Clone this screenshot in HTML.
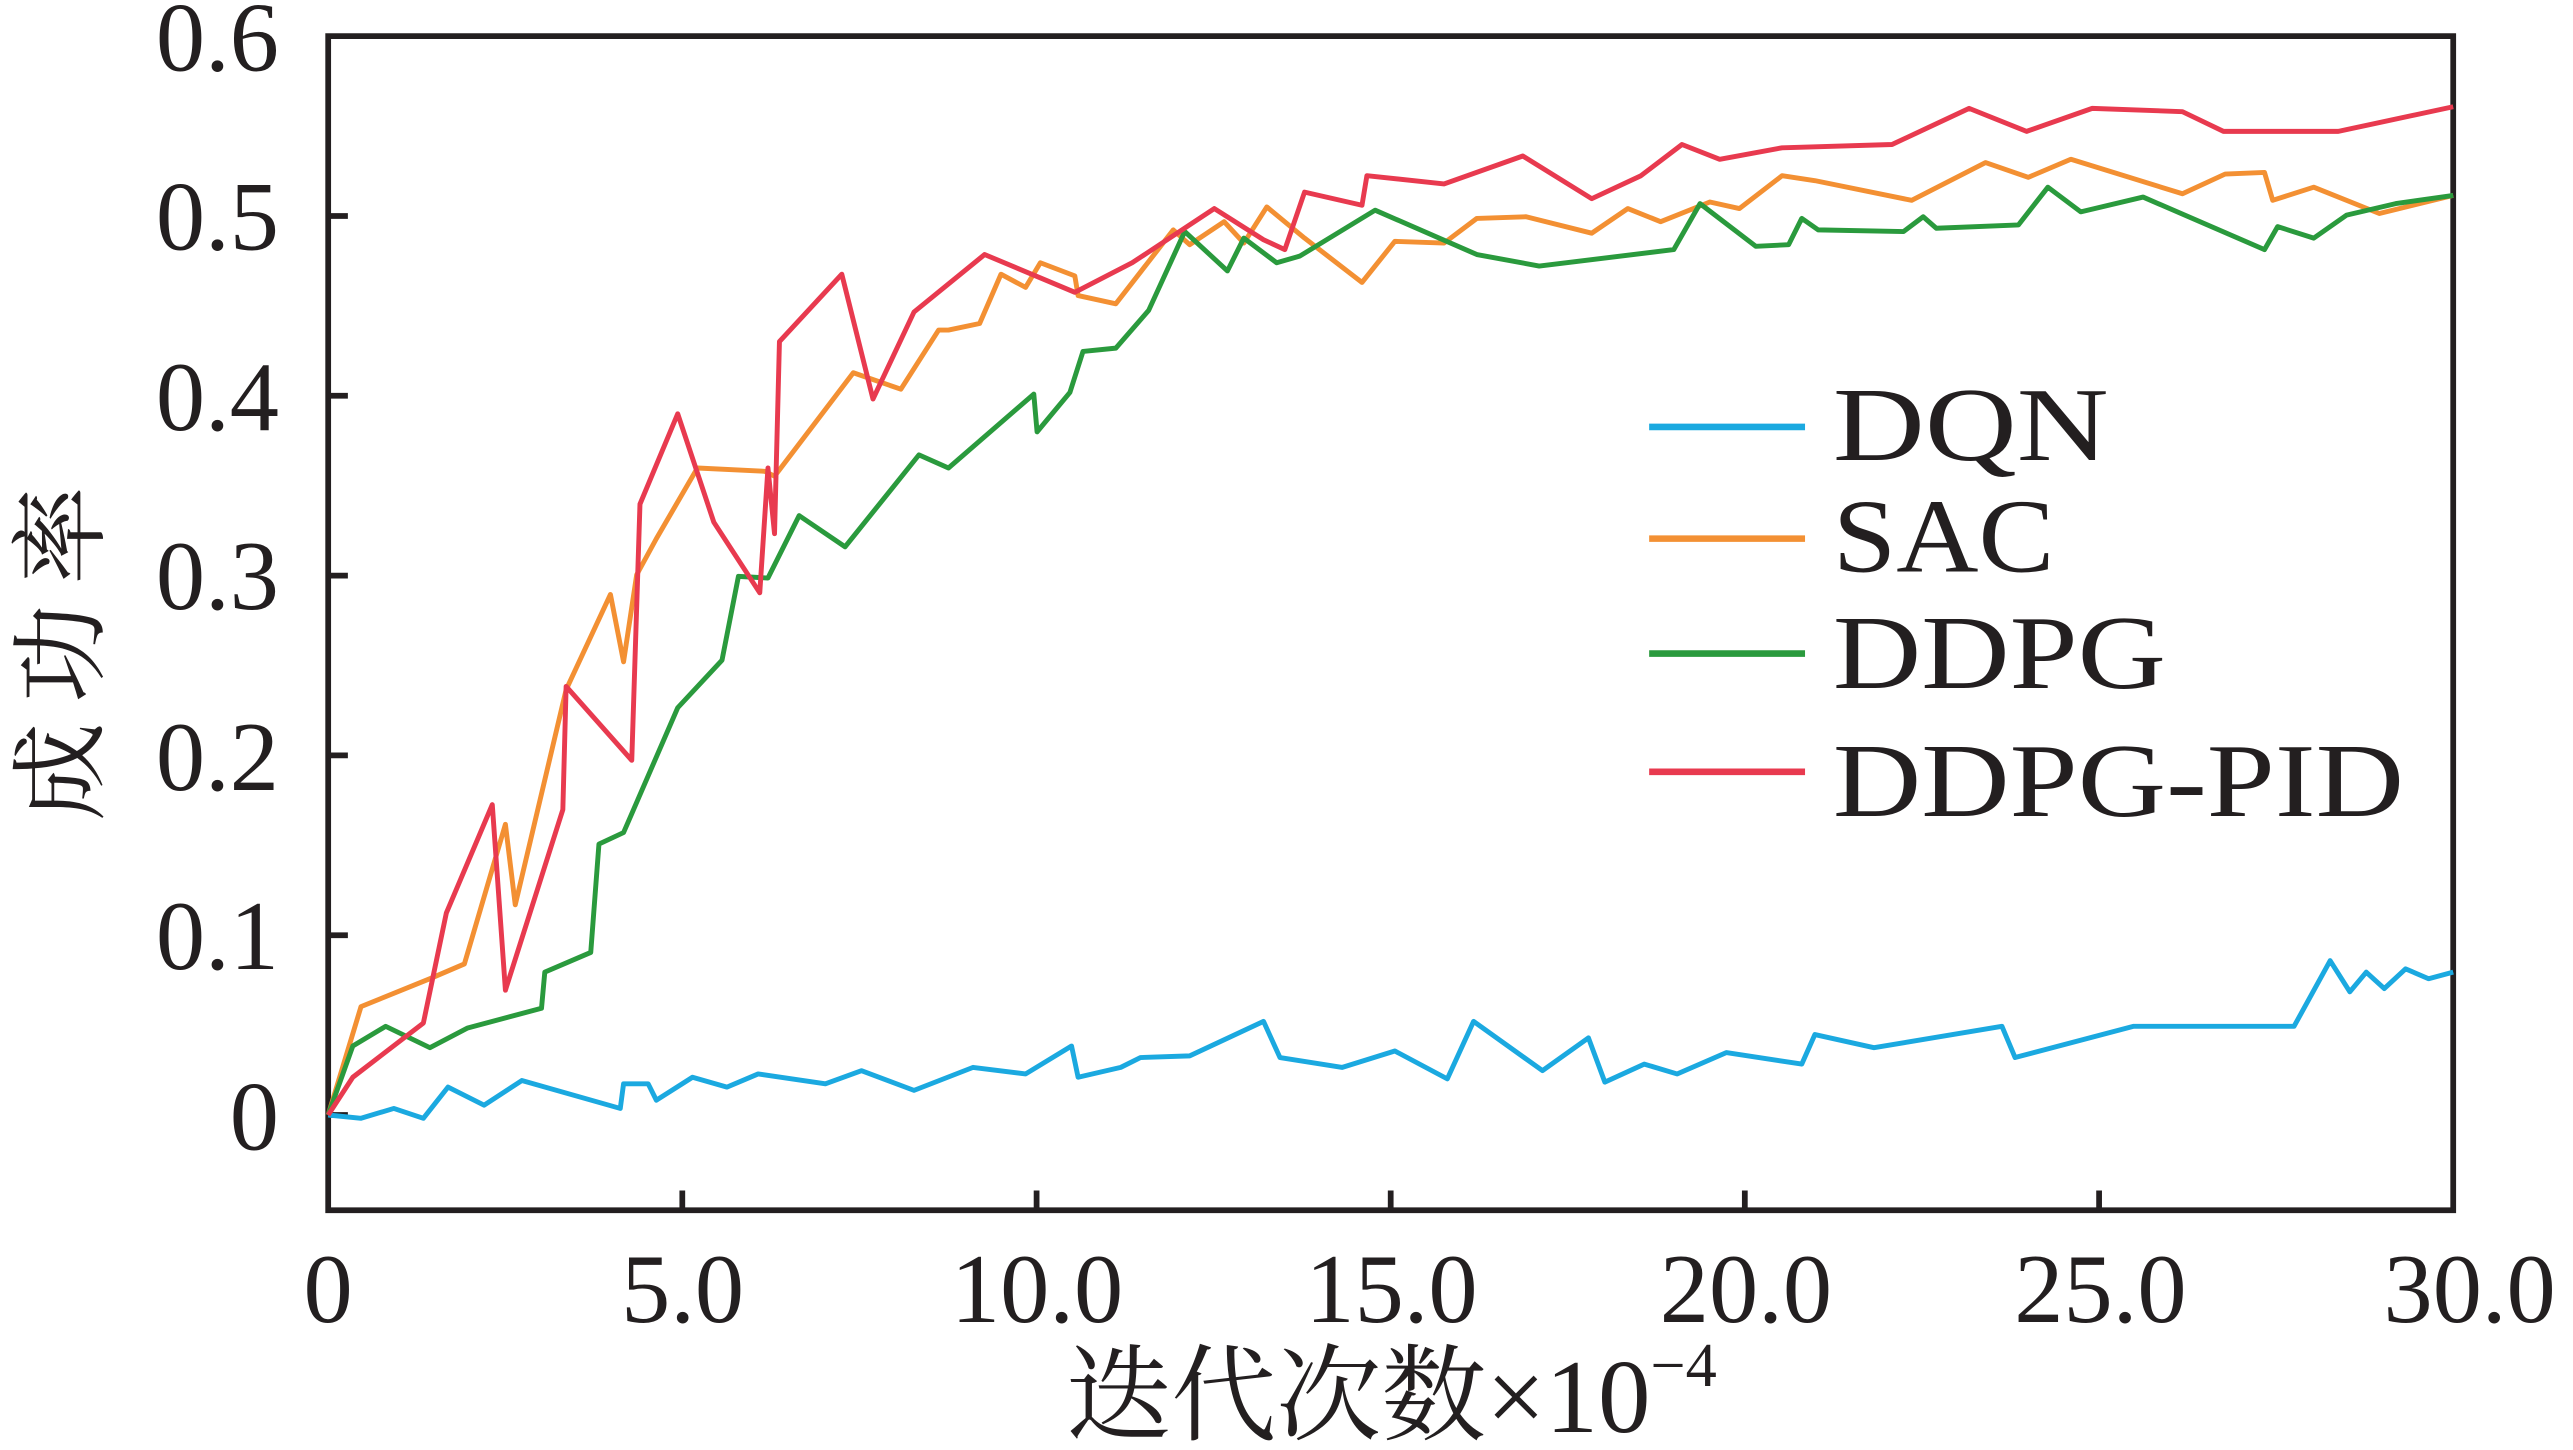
<!DOCTYPE html>
<html><head><meta charset="utf-8"><style>
html,body{margin:0;padding:0;background:#fff;}
svg{display:block;}
text{font-family:"Liberation Serif","Noto Serif CJK SC",serif;fill:#231f20;}
</style></head><body>
<svg width="2573" height="1450" viewBox="0 0 1568 883" preserveAspectRatio="none" xmlns="http://www.w3.org/2000/svg">
<rect x="0" y="0" width="1568" height="883" fill="#fff"/>
<g stroke="#231f20" stroke-width="3.5" fill="none">
<rect x="200" y="22" width="1295" height="715"/>
<path d="M415.8 737v-12M631.7 737v-12M847.5 737v-12M1063.3 737v-12M1279.2 737v-12M200 679h12M200 569.5h12M200 460h12M200 350.5h12M200 241h12M200 131.5h12"/>
</g>
<g font-size="60" text-anchor="end">
<text x="170" y="700">0</text>
<text x="170" y="590">0.1</text>
<text x="170" y="481">0.2</text>
<text x="170" y="371">0.3</text>
<text x="170" y="262">0.4</text>
<text x="170" y="152">0.5</text>
<text x="170" y="43">0.6</text>
</g>
<g font-size="60" text-anchor="middle">
<text x="200" y="805">0</text>
<text x="416" y="805">5.0</text>
<text x="632" y="805">10.0</text>
<text x="848" y="805">15.0</text>
<text x="1064" y="805">20.0</text>
<text x="1280" y="805">25.0</text>
<text x="1505" y="805">30.0</text>
</g>
<text x="848" y="872" font-size="64" text-anchor="middle">迭代次数×10<tspan font-size="38" dy="-28">−4</tspan></text>
<text transform="translate(58,392) rotate(-90)" font-size="60" text-anchor="middle" letter-spacing="12">成功率</text>
<g fill="none" stroke-width="3" stroke-linejoin="round">
<polyline stroke="#1ba9e0" points="200,679 220,681 240,675 258,681 273,662 295,673 318,658 378,675 380,660 395,660 400,670 422,656 443,662 462,654 503,660 525,652 557,664 593,650 625,654 653,637 657,656 683,650 695,644 725,643 770,622 780,644 818,650 850,640 882,657 898,622 940,652 968,632 978,659 1002,648 1022,654 1052,641 1098,648 1106,630 1142,638 1220,625 1228,644 1300,625 1398,625 1420,585 1432,604 1442,592 1453,602 1466,590 1480,596 1495,592"/>
<polyline stroke="#f39033" points="200,679 220,613 262,596 283,587 308,502 314,551 345,420 372,362 380,403 388,350 400,328 425,285 466,287 472,290 520,227 549,237 572,201 578,201 597,197 610,167 625,175 634,160 655,168 657,180 680,185 715,140 725,149 746,135 758,148 772,126 795,145 830,172 850,147 880,148 900,133 930,132 970,142 992,127 1012,135 1042,123 1060,127 1086,107 1106,110 1165,122 1210,99 1236,108 1262,97 1330,118 1356,106 1380,105 1385,122 1410,114 1450,130 1495,119"/>
<polyline stroke="#2a9a3d" points="200,679 215,637 235,625 262,638 285,626 330,614 332,592 360,580 365,514 380,507 413,431 440,402 450,351 468,352 487,314 515,333 560,277 578,285 630,240 632,263 652,239 660,214 680,212 700,189 722,141 748,165 758,145 778,160 792,156 838,128 900,155 938,162 1020,152 1036,124 1070,150 1090,149 1098,133 1108,140 1160,141 1172,132 1180,139 1230,137 1248,114 1268,129 1306,120 1380,152 1388,138 1410,145 1430,131 1460,124 1495,119"/>
<polyline stroke="#e83a4f" points="200,679 215,656 258,623 272,556 300,490 308,603 343,493 345,418 385,463 390,307 413,252 435,318 463,361 468,285 472,325 475,208 513,167 532,243 557,190 600,155 655,178 690,160 740,127 770,146 783,152 795,117 830,125 833,107 880,112 928,95 970,121 1000,107 1025,88 1048,97 1086,90 1153,88 1200,66 1235,80 1275,66 1330,68 1355,80 1425,80 1495,65"/>
<path stroke="#1ba9e0" stroke-width="4" d="M1005 260h95"/>
<path stroke="#f39033" stroke-width="4" d="M1005 328h95"/>
<path stroke="#2a9a3d" stroke-width="4" d="M1005 398h95"/>
<path stroke="#e83a4f" stroke-width="4" d="M1005 470h95"/>
</g>
<g font-size="64">
<text x="1117" y="280" textLength="168" lengthAdjust="spacingAndGlyphs">DQN</text>
<text x="1117" y="348" textLength="135" lengthAdjust="spacingAndGlyphs">SAC</text>
<text x="1117" y="419" textLength="203" lengthAdjust="spacingAndGlyphs">DDPG</text>
<text x="1117" y="497" textLength="348" lengthAdjust="spacingAndGlyphs">DDPG-PID</text>
</g>
</svg>
</body></html>
